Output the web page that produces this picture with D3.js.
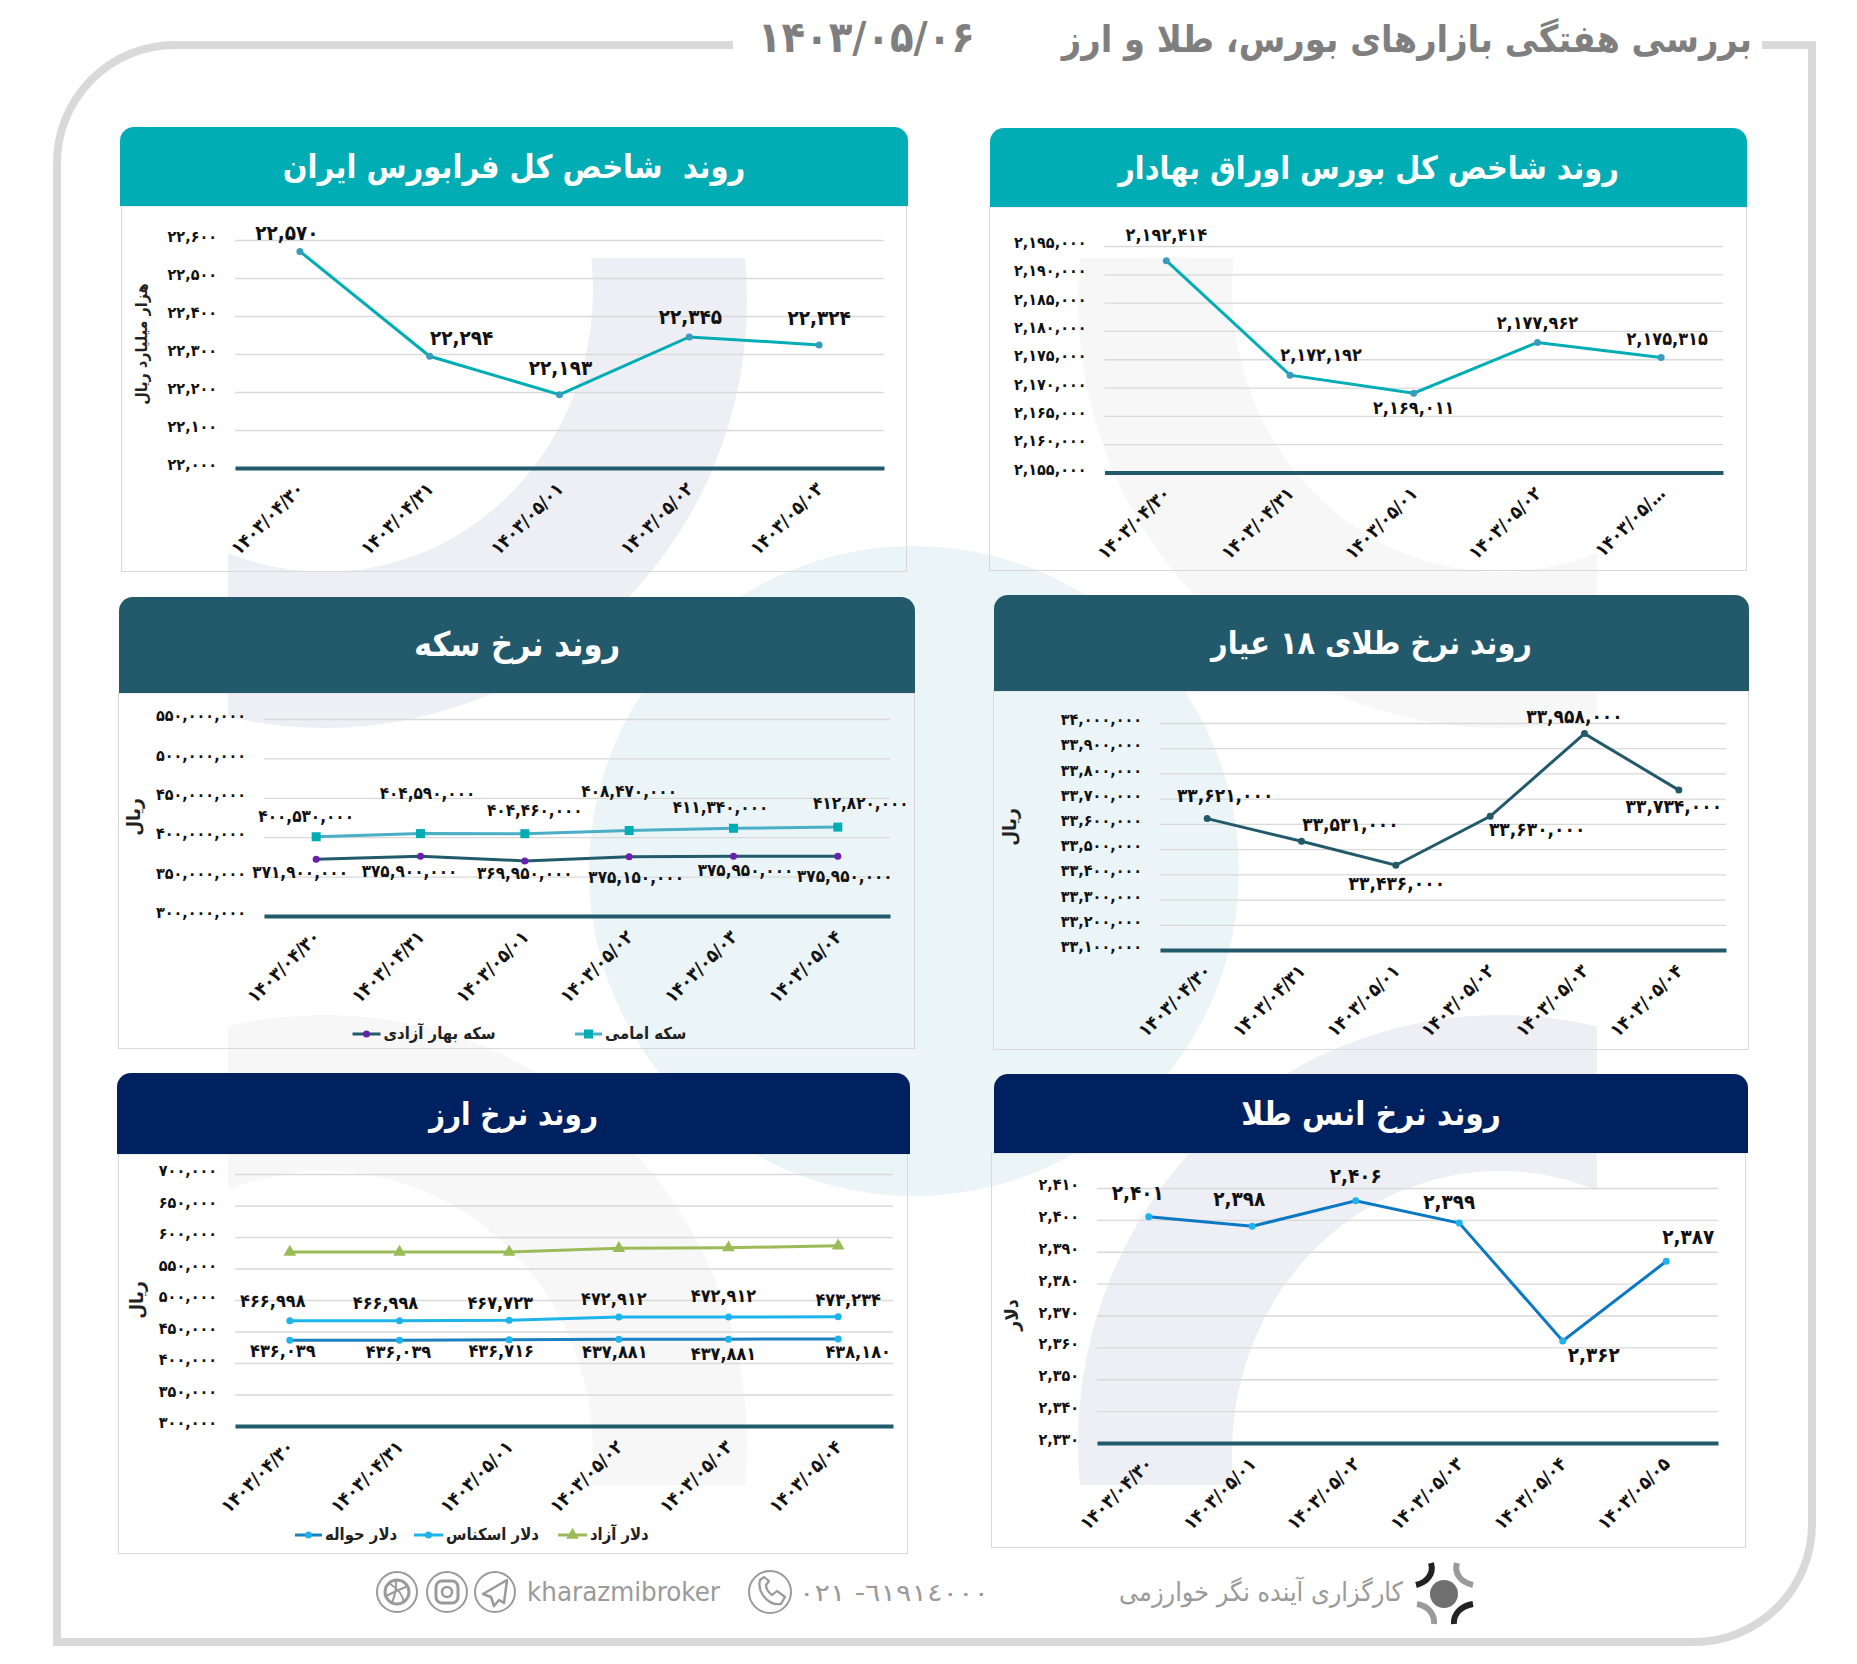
<!DOCTYPE html>
<html>
<head>
<meta charset="utf-8">
<script src="https://cdn.jsdelivr.net/npm/d3@7"></script>
<style>
  html, body { margin: 0; padding: 0; background: #fff; }
  svg { display: block; }
  text { font-family: "DejaVu Sans Condensed", "DejaVu Sans", sans-serif; white-space: pre; }
</style>
</head>
<body>
<div id="chart"></div>
<script>
'use strict';
// dates
var dates5 = ["۱۴۰۳/۰۴/۳۰", "۱۴۰۳/۰۴/۳۱", "۱۴۰۳/۰۵/۰۱", "۱۴۰۳/۰۵/۰۲", "۱۴۰۳/۰۵/۰۳"];
var dates5Cut = ["۱۴۰۳/۰۴/۳۰", "۱۴۰۳/۰۴/۳۱", "۱۴۰۳/۰۵/۰۱", "۱۴۰۳/۰۵/۰۲", "۱۴۰۳/۰۵/…"];
var dates6 = ["۱۴۰۳/۰۴/۳۰", "۱۴۰۳/۰۴/۳۱", "۱۴۰۳/۰۵/۰۱", "۱۴۰۳/۰۵/۰۲", "۱۴۰۳/۰۵/۰۳", "۱۴۰۳/۰۵/۰۴"];
var datesOunce = ["۱۴۰۳/۰۴/۳۰", "۱۴۰۳/۰۵/۰۱", "۱۴۰۳/۰۵/۰۲", "۱۴۰۳/۰۵/۰۳", "۱۴۰۳/۰۵/۰۴", "۱۴۰۳/۰۵/۰۵"];

// series values
var farabourse = [22570, 22294, 22193, 22345, 22324];
var bonds = [2192414, 2172192, 2169011, 2177962, 2175315];
var coinEmami = [400530000, 404590000, 404460000, 408470000, 411340000, 412820000];
var coinBahar = [371900000, 375900000, 369950000, 375150000, 375950000, 375950000];
var gold18 = [33621000, 33531000, 33436000, 33630000, 33958000, 33734000];
var usdFree = [576000, 576000, 576000, 582000, 583000, 586000];
var usdCash = [466998, 466998, 467723, 472912, 472912, 473234];
var usdTransfer = [436039, 436039, 436716, 437881, 437881, 438180];
var ounce = [2401, 2398, 2406, 2399, 2362, 2387];

// y axis ticks
var ticksFarabourse = [22000, 22100, 22200, 22300, 22400, 22500, 22600];
var ticksBonds = [2155000, 2160000, 2165000, 2170000, 2175000, 2180000, 2185000, 2190000, 2195000];
var ticksCoin = [300000000, 350000000, 400000000, 450000000, 500000000, 550000000];
var ticksGold = [33100000, 33200000, 33300000, 33400000, 33500000, 33600000, 33700000, 33800000, 33900000, 34000000];
var ticksUsd = [300000, 350000, 400000, 450000, 500000, 550000, 600000, 650000, 700000];
var ticksOunce = [2330, 2340, 2350, 2360, 2370, 2380, 2390, 2400, 2410];

// label nudges from the point, [dx, dy] to the middle of the label
var nudgeFarabourse = [[-13, -17], [32, -17], [1, -26], [1, -19], [0, -26]];
var nudgeBonds = [[0, -25], [31, -19], [0, 16], [0, -18], [6, -17]];
var nudgeEmami = [[-10, -20], [7, -40], [10, -23], [0, -39], [-13, -20], [23, -23]];
var nudgeBahar = [[-16, 14], [-11, 16], [0, 13], [7, 21], [12, 15], [7, 21]];
var nudgeGold = [[18, -22], [49, -16], [1, 19], [47, 14], [-10, -16], [-5, 17]];
var nudgeCash = [[-17, -19], [-14, -17], [-9, -16], [-5, -17], [-5, -20], [10, -16]];
var nudgeTransfer = [[-7, 12], [-1, 13], [-8, 12], [-4, 14], [-5, 16], [20, 14]];
var nudgeOunce = [[-11, -23], [-13, -26], [0, -24], [-10, -20], [31, 15], [22, -23]];

var colTeal = "#00adb5", colDark = "#225a6b", colNavy = "#00215f";
var fontStack = '"DejaVu Sans Condensed", "DejaVu Sans", sans-serif';

var faDigits = "۰۱۲۳۴۵۶۷۸۹";
var fmt = d3.format(",");
function toFa(v) {
  return fmt(v).replace(/\d/g, function(c) { return faDigits[+c]; });
}

var svg = d3.select("#chart").append("svg").attr("width", 1857).attr("height", 1664);

// ---- background shapes
function ellipsePath(cx, cy, rx, ry) {
  return "M" + (cx - rx) + "," + cy + "A" + rx + "," + ry + " 0 1 0 " + (cx + rx) + "," + cy +
         "A" + rx + "," + ry + " 0 1 0 " + (cx - rx) + "," + cy + "Z";
}
var defs = svg.append("defs");
function ring(id, cx, oy, iy, clip, color) {
  defs.append("clipPath").attr("id", id).append("rect")
    .attr("x", clip[0]).attr("y", clip[1]).attr("width", clip[2]).attr("height", clip[3]);
  svg.append("path")
    .attr("d", ellipsePath(cx, oy, 422, 428) + ellipsePath(cx, iy, 268, 282))
    .attr("fill-rule", "evenodd").attr("fill", color)
    .attr("clip-path", "url(#" + id + ")");
}
ring("r1", 325, 300, 290, [228, 258, 520, 480], "#eeeef5");
ring("r2", 1500, 300, 290, [1078, 258, 519, 480], "#f7f7f8");
svg.append("circle").attr("cx", 914).attr("cy", 871).attr("r", 325).attr("fill", "#ebf5f7");
ring("r3", 325, 1443, 1453, [228, 1005, 520, 480], "#f7f7f8");
ring("r4", 1500, 1443, 1453, [1078, 1005, 519, 480], "#eeeef5");

// ---- frame
svg.append("path")
  .attr("d", "M733,45H175A118,118 0 0 0 57,163V1642H1694A118,118 0 0 0 1812,1524V45H1762")
  .attr("fill", "none").attr("stroke", "#d9d9d9").attr("stroke-width", 8);

// ---- heading
svg.append("text").attr("x", 1752).attr("y", 52).attr("text-anchor", "end")
  .attr("font-size", 37.5).attr("font-weight", "bold").attr("fill", "#7f7f7f")
  .text("بررسی هفتگی بازارهای بورس، طلا و ارز");
svg.append("text").attr("x", 975).attr("y", 52).attr("text-anchor", "end")
  .attr("font-size", 43).attr("font-weight", "bold").attr("fill", "#7f7f7f")
  .text("۱۴۰۳/۰۵/۰۶");

function headerPath(x0, x1, y0, y1, r) {
  return "M" + x0 + "," + y1 + "V" + (y0 + r) + "A" + r + "," + r + " 0 0 1 " + (x0 + r) + "," + y0 +
         "H" + (x1 - r) + "A" + r + "," + r + " 0 0 1 " + x1 + "," + (y0 + r) + "V" + y1 + "Z";
}

function drawMarker(g, type, x, y, size, color) {
  if (type == "square") {
    g.append("rect").attr("x", x - size).attr("y", y - size).attr("width", size * 2).attr("height", size * 2).attr("fill", color);
  } else if (type == "triangle") {
    g.append("path").attr("d", d3.symbol(d3.symbolTriangle, size * size * 3.4)()).attr("transform", "translate(" + x + "," + y + ")").attr("fill", color);
  } else {
    g.append("circle").attr("cx", x).attr("cy", y).attr("r", size).attr("fill", color);
  }
}

// one panel: header, grid, axes, lines, labels
function drawPanel(p) {
  var g = svg.append("g");
  g.append("rect")
    .attr("x", p.box[0] + 0.5).attr("y", p.head[2]).attr("width", p.box[1] - p.box[0]).attr("height", p.box[2] - p.head[2] + 0.5)
    .attr("fill", "none").attr("stroke", "#d9d9d9");
  g.append("path").attr("d", headerPath(p.head[0], p.head[1], p.head[3], p.head[2], 14))
    .attr("fill", p.color);
  g.append("text")
    .attr("x", (p.head[0] + p.head[1]) / 2).attr("y", (p.head[2] + p.head[3]) / 2 + 11)
    .attr("text-anchor", "middle").attr("font-size", p.titleSize).attr("font-weight", "bold").attr("fill", "#fff")
    .text(p.title);

  var x = d3.scaleBand().domain(p.dates).range([p.plot[0], p.plot[1]]);
  var y = d3.scaleLinear().domain(d3.extent(p.ticks)).range([p.plot[2], p.plot[3]]);
  var w = p.plot[1] - p.plot[0];

  var yAxis = g.append("g").attr("transform", "translate(" + p.plot[0] + ",0)")
    .call(d3.axisLeft(y).tickValues(p.ticks).tickSize(-w).tickPadding(18).tickFormat(toFa));
  yAxis.select(".domain").remove();
  yAxis.selectAll(".tick line").attr("stroke", "#d9d9d9").attr("stroke-width", 1.3);
  yAxis.selectAll(".tick text").attr("font-family", fontStack).attr("font-weight", "bold")
    .attr("font-size", 16).attr("fill", "#111").attr("dy", "0.1em");

  var xAxis = g.append("g").attr("transform", "translate(0," + p.plot[2] + ")")
    .call(d3.axisBottom(x).tickSize(0).tickPadding(0));
  xAxis.select(".domain").attr("stroke", colDark).attr("stroke-width", 4);
  xAxis.selectAll(".tick text")
    .attr("font-family", fontStack).attr("font-weight", "bold").attr("font-size", 18.5).attr("fill", "#111")
    .attr("text-anchor", "end").attr("dy", 0).attr("y", 0)
    .attr("transform", "translate(5,22) rotate(-45)");

  g.append("text")
    .attr("transform", "translate(" + p.unitAt[0] + "," + p.unitAt[1] + ") rotate(-90)")
    .attr("text-anchor", "middle").attr("dominant-baseline", "middle")
    .attr("font-size", p.unitSize || 19).attr("font-weight", "bold").attr("fill", "#222").text(p.unit);

  var line = d3.line()
    .x(function(d, i) { return x(p.dates[i]) + x.bandwidth() / 2; })
    .y(function(d) { return y(d); });

  p.series.forEach(function(s) {
    g.append("path").attr("d", line(s.values)).attr("fill", "none")
      .attr("stroke", s.color).attr("stroke-width", s.width || 3);
    s.values.forEach(function(v, i) {
      drawMarker(g, s.marker, x(p.dates[i]) + x.bandwidth() / 2, y(v), s.size || 3.5, s.markerColor);
    });
    if (s.nudge) {
      g.selectAll(null).data(s.values).enter().append("text")
        .attr("x", function(d, i) { return x(p.dates[i]) + x.bandwidth() / 2 + s.nudge[i][0]; })
        .attr("y", function(d, i) { return y(d) + s.nudge[i][1]; })
        .attr("text-anchor", "middle").attr("dominant-baseline", "middle")
        .attr("font-size", p.labelSize).attr("font-weight", "bold").attr("fill", "#111")
        .text(toFa);
    }
  });

  (p.legend || []).forEach(function(l) {
    g.append("line").attr("x1", l.x0).attr("x2", l.x1).attr("y1", l.y).attr("y2", l.y)
      .attr("stroke", l.s.color).attr("stroke-width", 3);
    drawMarker(g, l.s.marker, (l.x0 + l.x1) / 2, l.y, l.s.size || 3.5, l.s.markerColor);
    g.append("text").attr("x", l.x1 + 3).attr("y", l.y).attr("dominant-baseline", "middle")
      .attr("font-size", 16.5).attr("font-weight", "bold").attr("fill", "#222").text(l.s.name);
  });
}

var sEmami = { name: "سکه امامی", values: coinEmami, color: "#4aaec6", markerColor: colTeal, marker: "square", size: 4.5, nudge: nudgeEmami };
var sBahar = { name: "سکه بهار آزادی", values: coinBahar, color: colDark, markerColor: "#6a1fb0", marker: "circle", nudge: nudgeBahar };
var sFree = { name: "دلار آزاد", values: usdFree, color: "#9bbb59", markerColor: "#9bbb59", marker: "triangle", size: 4.5 };
var sCash = { name: "دلار اسکناس", values: usdCash, color: "#1cb4ea", markerColor: "#1cb4ea", marker: "circle", nudge: nudgeCash };
var sTransfer = { name: "دلار حواله", values: usdTransfer, color: "#1a80c0", markerColor: "#1cb4ea", marker: "circle", nudge: nudgeTransfer };

drawPanel({
  title: "روند  شاخص کل فرابورس ایران", color: colTeal, titleSize: 32.3, labelSize: 20.5,
  head: [120, 908, 206, 127], box: [121, 906, 571], plot: [235, 884, 468, 240],
  dates: dates5, ticks: ticksFarabourse, unit: "هزار میلیارد ریال", unitAt: [142, 344], unitSize: 16,
  series: [{ values: farabourse, color: colTeal, markerColor: "#3a9bbd", marker: "circle", nudge: nudgeFarabourse }]
});
drawPanel({
  title: "روند شاخص کل بورس اوراق بهادار", color: colTeal, titleSize: 32, labelSize: 18,
  head: [990, 1747, 207, 128], box: [989, 1746, 570], plot: [1104.5, 1723, 472.5, 246],
  dates: dates5Cut, ticks: ticksBonds, unit: "", unitAt: [0, 0],
  series: [{ values: bonds, color: colTeal, markerColor: "#3a9bbd", marker: "circle", nudge: nudgeBonds }]
});
drawPanel({
  title: "روند نرخ سکه", color: colDark, titleSize: 34, labelSize: 17,
  head: [119, 915, 693, 597], box: [118, 914, 1048], plot: [264, 890, 916, 719],
  dates: dates6, ticks: ticksCoin, unit: "ریال", unitAt: [134, 817],
  series: [sEmami, sBahar],
  legend: [
    { s: sEmami, x0: 575, x1: 602, y: 1034 },
    { s: sBahar, x0: 352.5, x1: 380.5, y: 1034 }
  ]
});
drawPanel({
  title: "روند نرخ طلای ۱۸ عیار", color: colDark, titleSize: 32, labelSize: 19,
  head: [994, 1749, 691, 595], box: [993, 1748, 1049], plot: [1160, 1726, 950, 723],
  dates: dates6, ticks: ticksGold, unit: "ریال", unitAt: [1010, 827],
  series: [{ values: gold18, color: colDark, markerColor: colDark, marker: "circle", nudge: nudgeGold }]
});
drawPanel({
  title: "روند نرخ ارز", color: colNavy, titleSize: 31, labelSize: 18,
  head: [117, 910, 1154, 1073], box: [118, 907, 1553], plot: [235, 893, 1426, 1174],
  dates: dates6, ticks: ticksUsd, unit: "ریال", unitAt: [137, 1300],
  series: [sFree, sCash, sTransfer],
  legend: [
    { s: sFree, x0: 558, x1: 587, y: 1535 },
    { s: sCash, x0: 414, x1: 443, y: 1535 },
    { s: sTransfer, x0: 295, x1: 322, y: 1535 }
  ]
});
drawPanel({
  title: "روند نرخ انس طلا", color: colNavy, titleSize: 33, labelSize: 20.5,
  head: [994, 1748, 1153, 1074], box: [991, 1745, 1547], plot: [1097, 1718, 1443, 1188],
  dates: datesOunce, ticks: ticksOunce, unit: "دلار", unitAt: [1012, 1315],
  series: [{ values: ounce, color: "#0a78c4", markerColor: "#1cb4ea", marker: "circle", nudge: nudgeOunce }]
});

// ---- footer
var foot = svg.append("g");
var footGray = "#9a9a9a";
[397, 447, 495, 770].forEach(function(cx) {
  foot.append("circle").attr("cx", cx).attr("cy", 1592).attr("r", cx == 770 ? 21 : 20)
    .attr("fill", "none").attr("stroke", footGray).attr("stroke-width", 2);
});
// dribbble
foot.append("circle").attr("cx", 397).attr("cy", 1592).attr("r", 12).attr("fill", "none").attr("stroke", footGray).attr("stroke-width", 3);
foot.append("path").attr("d", "M389,1583Q403,1592 404,1603M386,1596Q398,1590 408,1586M392,1603Q397,1590 396,1580")
  .attr("fill", "none").attr("stroke", footGray).attr("stroke-width", 2);
// instagram
foot.append("rect").attr("x", 436).attr("y", 1581).attr("width", 22).attr("height", 22).attr("rx", 6)
  .attr("fill", "none").attr("stroke", footGray).attr("stroke-width", 3);
foot.append("circle").attr("cx", 447).attr("cy", 1592).attr("r", 5).attr("fill", "none").attr("stroke", footGray).attr("stroke-width", 2.5);
// telegram
foot.append("path").attr("d", "M507,1580L483,1594L491,1597L494,1606L499,1600L504,1603Z")
  .attr("fill", "none").attr("stroke", footGray).attr("stroke-width", 2.5).attr("stroke-linejoin", "round");
// phone
foot.append("path").attr("d", "M760,1580C757,1592 768,1606 781,1604L785,1597L777,1591L772,1595C768,1592 766,1589 766,1585L769,1581L764,1577Z")
  .attr("fill", "none").attr("stroke", footGray).attr("stroke-width", 2.2).attr("stroke-linejoin", "round");

foot.append("text").attr("x", 527).attr("y", 1601).attr("font-size", 27).attr("fill", footGray)
  .attr("font-family", '"Open Sans", sans-serif').attr("textLength", 193).attr("lengthAdjust", "spacingAndGlyphs")
  .text("kharazmibroker");
foot.append("text").attr("x", 799).attr("y", 1601).attr("font-size", 24).attr("fill", footGray)
  .attr("textLength", 190).attr("lengthAdjust", "spacingAndGlyphs")
  .text("٠٢١\u200E -\u200E٦١٩١٤٠٠٠");
foot.append("text").attr("x", 1403).attr("y", 1601).attr("text-anchor", "end").attr("font-size", 26.7).attr("fill", footGray)
  .text("کارگزاری آینده نگر خوارزمی");

// logo
foot.append("circle").attr("cx", 1444).attr("cy", 1594).attr("r", 14).attr("fill", "#6f6f6f");
[
  ["M1431,1563C1434,1573 1428,1582 1416,1585", "#222"],
  ["M1457,1563C1454,1573 1460,1582 1473,1585", "#9a9a9a"],
  ["M1417,1604C1428,1606 1435,1614 1434,1624", "#9a9a9a"],
  ["M1473,1604C1461,1606 1453,1614 1454,1624", "#222"]
].forEach(function(a) {
  foot.append("path").attr("d", a[0]).attr("fill", "none").attr("stroke", a[1]).attr("stroke-width", 6);
});
</script>
</body>
</html>
